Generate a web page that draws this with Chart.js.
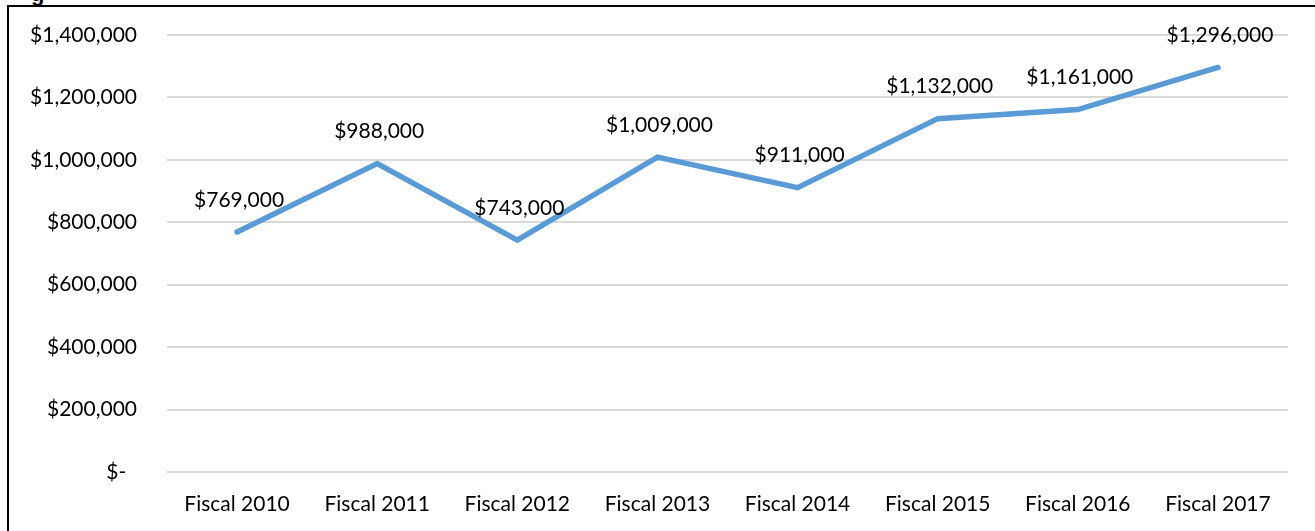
<!DOCTYPE html>
<html>
<head>
<meta charset="utf-8">
<script src="https://cdn.jsdelivr.net/npm/chart.js@4"></script>
<style>
  html, body { margin: 0; padding: 0; background: #fff; overflow: hidden; }
  #wrap { position: relative; width: 1315px; height: 531px; }
  #frame { position: absolute; left: 7px; top: 5px; right: -4px; bottom: -4px;
           border-left: 2px solid #000; border-top: 2px solid #000; pointer-events: none; }
  #cap { position: absolute; left: 31px; top: -19px; font: bold 22px "Liberation Sans", sans-serif; color: #000; }
  canvas { position: absolute; left: 0; top: 0; }
</style>
</head>
<body>
<div id="wrap">
  <div id="cap">g</div>
  <canvas id="chart" width="1315" height="531"></canvas>
  <div id="frame"></div>
</div>
<script>
// values
var categories = ["Fiscal 2010", "Fiscal 2011", "Fiscal 2012", "Fiscal 2013", "Fiscal 2014", "Fiscal 2015", "Fiscal 2016", "Fiscal 2017"];
var budget = [769000, 988000, 743000, 1009000, 911000, 1132000, 1161000, 1296000];
var yTicks = [0, 200000, 400000, 600000, 800000, 1000000, 1200000, 1400000];

var FONT = "Lato";

function money(v) {
	if (v === 0) return "$-  ";
	return "$" + v.toLocaleString("en-US");
}

// simple data label plugin (labels above each point)
var labelPlugin = {
	id: "pointLabels",
	afterDatasetsDraw: function (chart) {
		var ctx = chart.ctx;
		var meta = chart.getDatasetMeta(0);
		ctx.save();
		ctx.font = "21px " + FONT;
		ctx.fillStyle = "#000";
		ctx.textAlign = "center";
		ctx.textBaseline = "middle";
		meta.data.forEach(function (pt, i) {
			ctx.fillText(money(budget[i]), pt.x + 2, pt.y - 32);
		});
		ctx.restore();
	}
};

var ctx = document.getElementById("chart").getContext("2d");
var lineChart = new Chart(ctx, {
	type: "line",
	data: {
		labels: categories,
		datasets: [
			{
				label: "Budget",
				data: budget,
				borderColor: "#5B9BD5",
				borderWidth: 5.5,
				borderCapStyle: "round",
				borderJoinStyle: "miter",
				pointRadius: 0,
				tension: 0,
				fill: false
			}
		]
	},
	options: {
		responsive: false,
		animation: false,
		layout: { padding: { top: 35, right: 27, left: 0, bottom: 0 } },
		plugins: {
			legend: { display: false },
			tooltip: { enabled: false }
		},
		scales: {
			x: {
				offset: true,
				grid: { display: false, drawTicks: false },
				border: { display: false },
				ticks: { color: "#000", font: { family: FONT, size: 21 }, padding: 20, maxRotation: 0 },
				afterFit: function (s) { s.height = 59; s.paddingLeft = 0; s.paddingRight = 0; }
			},
			y: {
				min: 0,
				max: 1400000,
				afterBuildTicks: function (s) { s.ticks = yTicks.map(function (v) { return { value: v }; }); },
				grid: { color: "#D9D9D9", lineWidth: 2, drawTicks: false },
				border: { display: false },
				ticks: {
					color: "#000",
					font: { family: FONT, size: 21 },
					padding: 30,
					callback: function (v) { return money(v); }
				},
				afterFit: function (s) { s.width = 167; s.paddingTop = 0; s.paddingBottom = 0; }
			}
		}
	},
	plugins: [labelPlugin]
});
</script>
</body>
</html>
